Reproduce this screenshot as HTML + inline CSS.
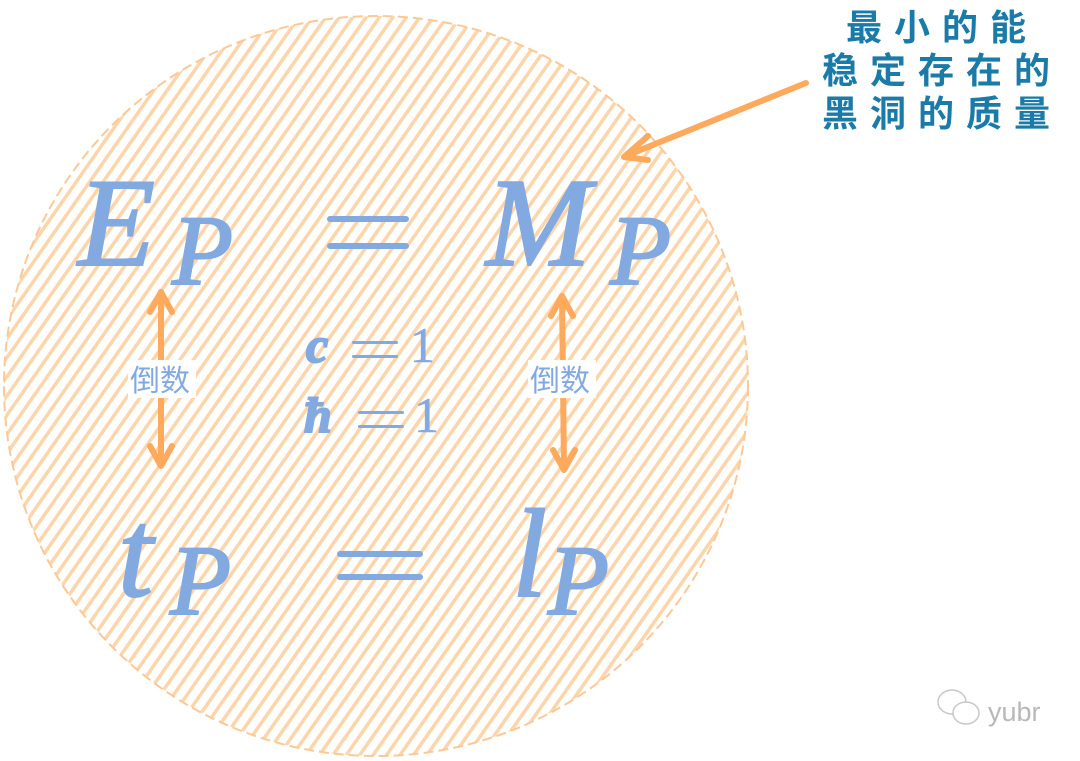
<!DOCTYPE html>
<html><head><meta charset="utf-8"><style>
html,body{margin:0;padding:0;background:#fff;width:1080px;height:761px;overflow:hidden}
</style></head><body>
<svg width="1080" height="761" viewBox="0 0 1080 761" xmlns="http://www.w3.org/2000/svg">
<defs>
<pattern id="h" patternUnits="userSpaceOnUse" width="11" height="11" patternTransform="rotate(35)">
<rect width="11" height="11" fill="#fff"/>
<rect x="0" y="0" width="3.5" height="11" fill="#fdd5aa"/>
</pattern>
</defs>
<ellipse cx="376" cy="386" rx="372" ry="370" fill="url(#h)"/>
<ellipse cx="376" cy="386" rx="372" ry="370" fill="none" stroke="#fcc895" stroke-width="2" stroke-dasharray="10 5"/>
<g fill="#82a9e0" stroke="#82a9e0" stroke-width="2" font-family="'Liberation Serif',serif" font-style="italic">
<text x="78" y="265" font-size="126">E</text>
<text x="172" y="284" font-size="100">P</text>
<text x="486" y="265" font-size="126">M</text>
<text x="610" y="284" font-size="100">P</text>
<text x="118" y="596" font-size="126">t</text>
<text x="170" y="614" font-size="100">P</text>
<text x="512" y="596" font-size="126">l</text>
<text x="548" y="614" font-size="100">P</text>
<text x="306" y="362" font-size="50" font-weight="bold">c</text>
<text x="304" y="432" font-size="50" font-weight="bold">ħ</text>
<text x="410" y="362" font-size="50" font-style="normal" stroke-width="0.5">1</text>
<text x="414" y="432" font-size="50" font-style="normal" stroke-width="0.5">1</text>
</g>
<g fill="#82a9e0">
<rect x="327" y="216" width="82" height="6" rx="3"/><rect x="327" y="243" width="82" height="6" rx="3"/>
<rect x="337" y="551" width="86" height="6" rx="3"/><rect x="337" y="574" width="86" height="6" rx="3"/>
<rect x="352" y="341" width="46" height="3" rx="1.5"/><rect x="352" y="355" width="46" height="3" rx="1.5"/>
<rect x="358" y="411" width="46" height="3" rx="1.5"/><rect x="358" y="425" width="46" height="3" rx="1.5"/>
</g>
<g stroke="#ffa95c" stroke-width="6" fill="none" stroke-linecap="round" stroke-linejoin="round">
<line x1="161" y1="292" x2="161" y2="464"/>
<polyline points="150,312 161,292 172,312"/>
<polyline points="150,446 161,466 172,446"/>
<line x1="562" y1="296" x2="564" y2="468"/>
<polyline points="551,316 562,296 573,316"/>
<polyline points="553,450 564,470 575,450"/>
<line x1="806" y1="83" x2="628" y2="155"/>
<polyline points="648,136 624,157 648,160"/>
</g>
<rect x="128" y="360" width="68" height="38" fill="#fff"/>
<rect x="528" y="360" width="68" height="38" fill="#fff"/>
<g fill="#82a9e0" font-family="'Liberation Sans','Noto Sans CJK SC',sans-serif" font-size="30">
<text x="130" y="391">倒数</text>
<text x="530" y="391">倒数</text>
</g>
<g fill="#1a7aa8" font-family="'Liberation Sans','Noto Sans CJK SC',sans-serif" font-size="36" font-weight="bold" text-anchor="middle" letter-spacing="12">
<text x="942" y="40">最小的能</text>
<text x="942" y="83">稳定存在的</text>
<text x="942" y="126">黑洞的质量</text>
</g>
<g fill="none" stroke="#c8c8c8" stroke-width="1.5">
<ellipse cx="952" cy="702" rx="14" ry="12"/>
<ellipse cx="966" cy="713" rx="13" ry="11" fill="#fff"/>
</g>
<text x="988" y="721" fill="#b8b8b8" font-family="'Liberation Sans',sans-serif" font-size="27">yubr</text>
</svg>
</body></html>
